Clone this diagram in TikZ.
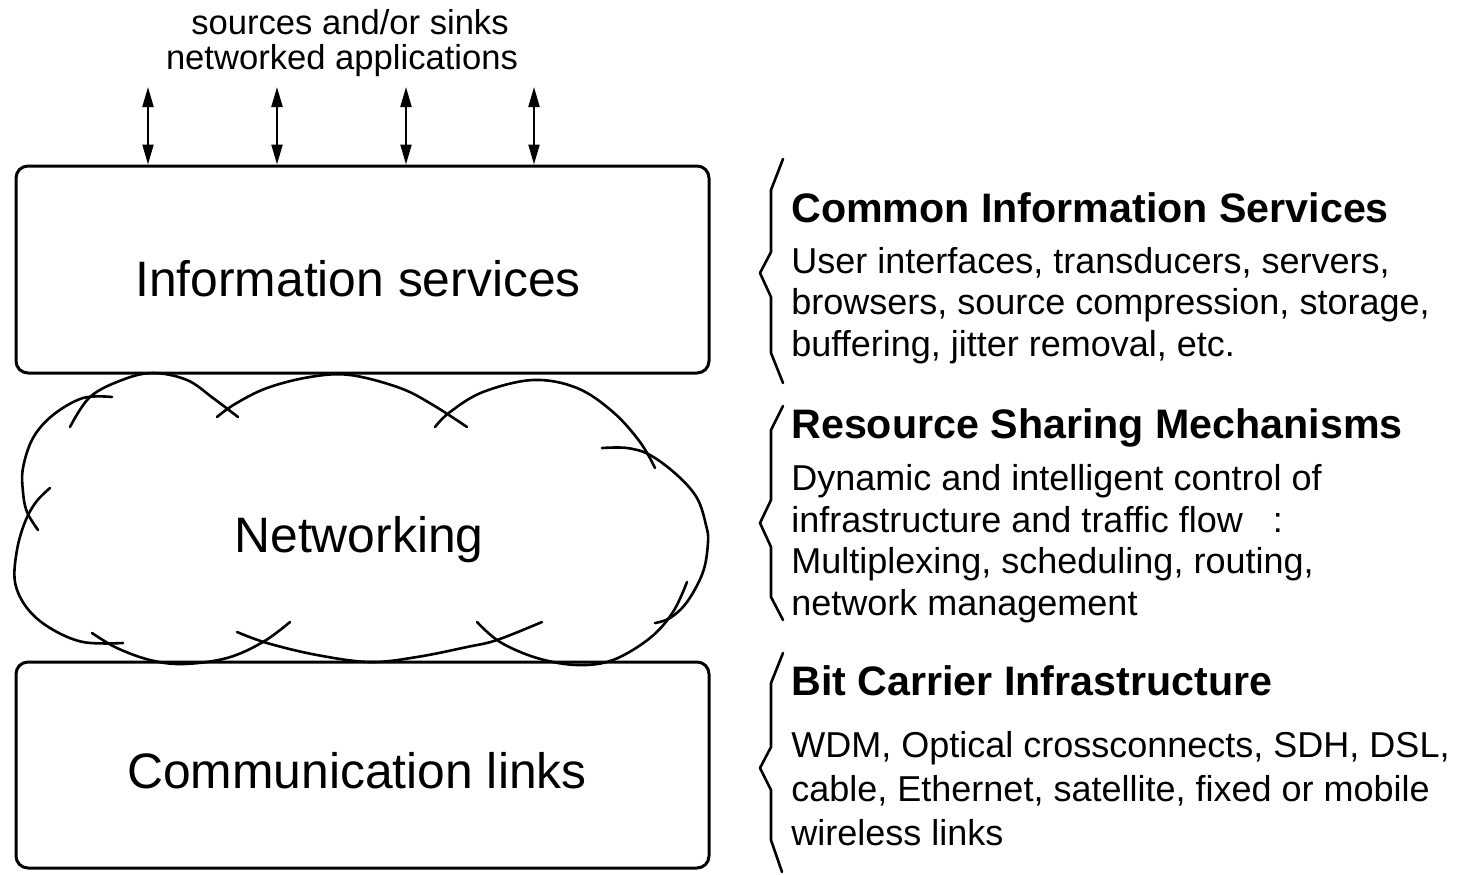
\documentclass[tikz,border=0pt]{standalone}
\usepackage{fontspec}
\setmainfont{Liberation Sans}
\usetikzlibrary{arrows.meta}
\begin{document}
\begin{tikzpicture}[x=0.5pt,y=-0.5pt,
  box/.style={draw, line width=1.5pt, rounded corners=6pt, minimum width=346.5pt,
    minimum height=103.5pt, inner sep=0pt},
  cloudline/.style={line width=1.3pt, line cap=round, line join=round},
  bracepath/.style={line width=1.3pt, line join=round, line cap=round},
  biarrow/.style={line width=1.05pt,
    {Triangle[length=10pt,width=5.5pt]}-{Triangle[length=10pt,width=5.5pt]}},
  biglabel/.style={font=\fontsize{24.9pt}{29pt}\selectfont, inner sep=0pt, anchor=base},
  toplabel/.style={font=\fontsize{17.3pt}{20pt}\selectfont, inner sep=0pt, anchor=base},
  heading/.style={font=\fontsize{20.6pt}{24pt}\selectfont\bfseries, inner sep=0pt, anchor=base west},
  body/.style={font=\fontsize{18pt}{20.75pt}\selectfont, inner sep=0pt, anchor=base west, align=left},
]
\useasboundingbox (0,0) rectangle (1467,874);

% layer boxes
\node[box] (info) at (362.5,269.5) {};
\node[box, minimum height=103pt] (comm) at (362.5,765) {};

% application access points above the services layer
\node[toplabel] (src) at (350,34) {sources and/or sinks};
\node[toplabel] (apps) at (342,69) {networked applications};
\coordinate (t1) at (148,87);
\coordinate (t2) at (277,87);
\coordinate (t3) at (406,87);
\coordinate (t4) at (534,87);
\foreach \t in {t1,t2,t3,t4}
  \draw[biarrow] (\t) -- (\t |- info.north);

% networking cloud, drawn as overlapping hand-drawn lobes
\draw[cloudline] plot[smooth, tension=0.6] coordinates
  {(112,397) (83,398) (53,415) (33,438) (23,468) (23,492) (27,512) (38,530)};
\draw[cloudline] plot[smooth, tension=0.6] coordinates
  {(70,427) (90,397) (122,380) (153,373) (187,380) (213,398) (238,417)};
\draw[cloudline] plot[smooth, tension=0.6] coordinates
  {(217,417) (235,404) (267,388) (310,377) (350,375) (400,388) (433,405) (467,427)};
\draw[cloudline] plot[smooth, tension=0.6] coordinates
  {(435,427) (450,412) (483,392) (533,380) (577,388) (613,412) (640,442) (655,468)};
\draw[cloudline] plot[smooth, tension=0.6] coordinates
  {(602,448) (627,448) (650,455) (677,475) (697,498) (706,525) (708,542) (703,572) (687,602) (670,618) (655,623)};
\draw[cloudline] plot[smooth, tension=0.6] coordinates
  {(687,582) (673,612) (650,638) (613,660) (577,665) (537,658) (500,642) (477,622)};
\draw[cloudline] plot[smooth, tension=0.6] coordinates
  {(237,632) (267,643) (317,655) (370,662) (417,657) (467,647) (497,640) (542,622)};
\draw[cloudline] plot[smooth, tension=0.6] coordinates
  {(92,633) (117,648) (150,660) (183,664) (227,658) (263,642) (290,622)};
\draw[cloudline] plot[smooth, tension=0.6] coordinates
  {(50,488) (36,502) (25,522) (17,550) (15,582) (27,608) (50,628) (83,642) (123,643)};

% layer names
\node[biglabel] (infotext) at (358,296) {Information services};
\node[biglabel] (nettext) at (359,552) {Networking};
\node[biglabel] (commtext) at (357,788) {Communication links};

% braces
\draw[bracepath] (783,159) -- (771,190) -- (771,252) -- (760,273) -- (771,297) -- (771,353) -- (783,383);
\draw[bracepath] (783,406) -- (771,430) -- (771,500) -- (760,523) -- (771,547) -- (771,597) -- (783,620);
\draw[bracepath] (783,653) -- (771,683) -- (771,747) -- (760,768) -- (771,790) -- (771,840) -- (782,872);

% descriptions (a multi-line node sits on the baseline of its last line)
\node[heading] (h1) at (791,222) {Common Information Services};
\node[body] (b1) at (791,356) {User interfaces, transducers, servers,\\
  browsers, source compression, storage,\\buffering, jitter removal, etc.};
\node[heading] (h2) at (791,438) {Resource Sharing Mechanisms};
\node[body] (b2) at (791,615) {Dynamic and intelligent control of\\
  infrastructure and traffic flow\hspace{15pt}:\\Multiplexing, scheduling, routing,\\network management};
\node[heading] (h3) at (791,695) {Bit Carrier Infrastructure};
\node[body, font=\fontsize{18pt}{22pt}\selectfont] (b3) at (791,845) {WDM, Optical crossconnects, SDH, DSL,\\
  cable, Ethernet, satellite, fixed or mobile\\wireless links};
\end{tikzpicture}
\end{document}
